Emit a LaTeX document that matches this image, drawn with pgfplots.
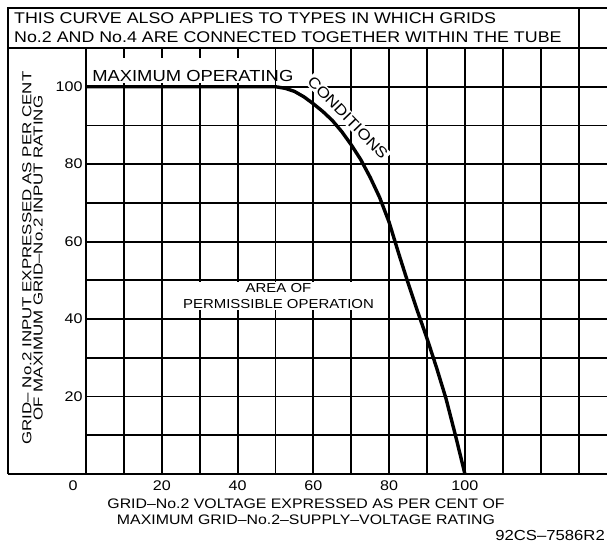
\documentclass[border=0pt]{standalone}
\usepackage{pgfplots}
\pgfplotsset{compat=1.18}
\usepackage{fontspec}
\setmainfont{Liberation Sans}[FakeStretch=1.15]
\newfontfamily\ylabfont{Liberation Sans}[FakeStretch=1.3, Ligatures=TeX]
\begin{document}
\begin{tikzpicture}
\begin{axis}[
    name=ax,
    scale only axis,
    width=521pt, height=426pt,
    xmin=0, xmax=137.5, ymin=0, ymax=110,
    axis x line=bottom, axis y line=left,
    axis line style={-, line width=2.2pt},
    xtick={0,10,...,130},
    xticklabels={,,20,,40,,60,,80,,100,,,},
    ytick={0,10,...,110},
    yticklabels={,,20,,40,,60,,80,,100,},
    extra x ticks={0},
    extra x tick labels={0},
    extra x tick style={grid=none, tick label style={xshift=-13pt}},
    major tick length=0pt,
    grid=major,
    major grid style={black, line width=1.9pt},
    /pgf/number format/assume math mode=true,
    tick label style={font=\fontsize{14}{16}\selectfont},
    xticklabel style={yshift=-3pt},
    clip=false,
]
\addplot[black, line width=3.4pt] coordinates {
    (0,100) (50,100) (52.5,99.6) (55,98.8) (57.5,97.4) (60,95.6)
    (62.5,93.6) (65,91.3) (67.5,88.4) (70,85) (72.5,81.2) (75,76.6)
    (77.5,71.4) (80,65) (82.5,57) (85,49.3) (87.5,42) (90,35)
    (92.5,27.5) (95,19.5) (97.5,10) (100,0)
};
\draw[line width=1.9pt] (axis cs:130,110) -- ++(0,40pt);
\fill[white] (axis cs:0.7,100.9) rectangle (axis cs:49.3,107.4);
\node[anchor=south west, inner sep=0pt, font=\fontsize{16}{18}\selectfont]
    at (axis cs:1.6,101.2) {MAXIMUM OPERATING};
\node[rotate=-46, inner sep=1.5pt, fill=white, font=\fontsize{15}{17}\selectfont]
    at (axis cs:69.1,92.0) {CONDITIONS};
\node[align=center, inner sep=2pt, fill=white, font=\fontsize{13}{15.5}\selectfont]
    at (axis cs:50.8,46) {AREA OF\\PERMISSIBLE OPERATION};
\end{axis}
% frame and header
\draw[line width=2.2pt] ([xshift=-78pt]ax.south west) -- ([xshift=-78pt,yshift=40pt]ax.north west) -- ([yshift=40pt]ax.north east);
\draw[line width=2.2pt] ([xshift=-78pt]ax.south west) -- (ax.south west);
\draw[line width=1.9pt] ([xshift=-78pt]ax.north west) -- (ax.north west);
\node[anchor=north west, align=left, inner sep=0pt, font=\fontsize{15.5}{19}\selectfont]
    at ([xshift=-72pt,yshift=36pt]ax.north west)
    {THIS CURVE ALSO APPLIES TO TYPES IN WHICH GRIDS\\No.2 AND No.4 ARE CONNECTED TOGETHER WITHIN THE TUBE};
\node[rotate=90, align=center, inner sep=0pt, font=\ylabfont\fontsize{13}{11.2}\selectfont]
    at ([xshift=-53.5pt,yshift=3pt]ax.west)
    {GRID– No.2 INPUT EXPRESSED AS PER CENT\\OF MAXIMUM GRID–No.2 INPUT RATING};
\node[align=center, inner sep=0pt, font=\fontsize{13.8}{16}\selectfont]
    at ([xshift=220pt,yshift=-37.5pt]ax.south west)
    {GRID–No.2 VOLTAGE EXPRESSED AS PER CENT OF\\MAXIMUM GRID–No.2–SUPPLY–VOLTAGE RATING};
\node[anchor=east, inner sep=0pt, font=\fontsize{14.5}{16}\selectfont]
    at ([xshift=-2pt,yshift=-62pt]ax.south east) {92CS–7586R2};
\pgfresetboundingbox
\useasboundingbox ([xshift=-86pt,yshift=-72pt]ax.south west) rectangle ([yshift=48pt]ax.north east);
\end{tikzpicture}
\end{document}
